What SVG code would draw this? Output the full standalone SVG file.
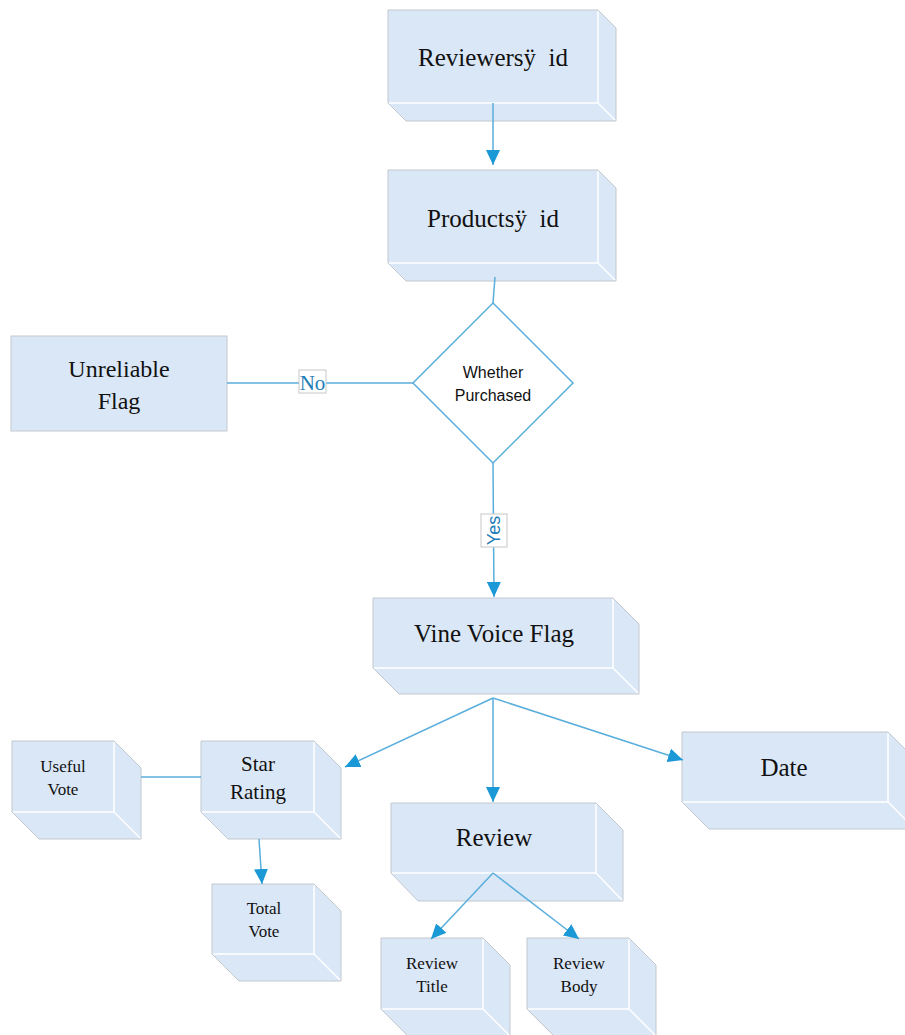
<svg xmlns="http://www.w3.org/2000/svg" width="905" height="1035" viewBox="0 0 905 1035">
<defs>
<style>
.box{fill:#dae7f6;stroke:#c3c8ce;stroke-width:1}
.inner{fill:none;stroke:#ffffff;stroke-width:1.5}
.flat{fill:#dae7f6;stroke:#c3c8ce;stroke-width:1}
.t{font-family:"Liberation Serif","Times New Roman",serif;fill:#111;text-anchor:middle}
.s{font-family:"Liberation Sans",Arial,sans-serif;fill:#111;text-anchor:middle;font-size:16px}
.c{fill:none;stroke:#5aaedc;stroke-width:1.5}
.lbl{fill:#ffffff;stroke:#c8c8c8;stroke-width:1}
.lt{fill:#1f7db8;text-anchor:middle}
</style>
<marker id="ah" viewBox="0 0 15 14" refX="15" refY="7" markerWidth="15" markerHeight="14" markerUnits="userSpaceOnUse" orient="auto">
<path d="M0,0 L15,7 L0,14 Z" fill="#1b98d6"/>
</marker>
</defs>
<rect width="905" height="1035" fill="#ffffff"/>

<g id="node-reviewers-id">
<path class="box" d="M388,10 H598 L616,28 V121 H406 L388,103 Z"/>
<path class="inner" d="M598,11 V103 H389 M598,103 L615,120"/>
<text class="t" x="493" y="66" font-size="25" xml:space="preserve" style="white-space:pre">Reviewersÿ  id</text>
</g>

<g id="node-products-id">
<path class="box" d="M388,170 H598 L616,188 V281 H406 L388,263 Z"/>
<path class="inner" d="M598,171 V263 H389 M598,263 L615,280"/>
<text class="t" x="493" y="227" font-size="25" xml:space="preserve" style="white-space:pre">Productsÿ  id</text>
</g>

<g id="node-unreliable-flag">
<rect class="flat" x="11" y="336" width="216" height="95"/>
<text class="t" x="119" y="377" font-size="24">Unreliable</text>
<text class="t" x="119" y="409" font-size="24">Flag</text>
</g>

<g id="node-whether-purchased">
<path d="M493,303 L573,383 L493,463 L413,383 Z" fill="#ffffff" stroke="#5aaedc" stroke-width="1.5"/>
<text class="s" x="493" y="378">Whether</text>
<text class="s" x="493" y="401">Purchased</text>
</g>

<g id="node-vine-voice-flag">
<path class="box" d="M373,598 H613 L639,624 V694 H399 L373,668 Z"/>
<path class="inner" d="M613,599 V668 H374 M613,668 L638,693"/>
<text class="t" x="494" y="642" font-size="25">Vine Voice Flag</text>
</g>

<g id="node-useful-vote">
<path class="box" d="M12,741 H114 L141,768 V839 H39 L12,812 Z"/>
<path class="inner" d="M114,742 V812 H13 M114,812 L140,838"/>
<text class="t" x="63" y="772" font-size="17">Useful</text>
<text class="t" x="63" y="795" font-size="17">Vote</text>
</g>

<g id="node-star-rating">
<path class="box" d="M201,741 H314 L341,768 V839 H228 L201,812 Z"/>
<path class="inner" d="M314,742 V812 H202 M314,812 L340,838"/>
<text class="t" x="258" y="771" font-size="21">Star</text>
<text class="t" x="258" y="799" font-size="21">Rating</text>
</g>

<g id="node-total-vote">
<path class="box" d="M212,884 H314 L341,911 V981 H239 L212,954 Z"/>
<path class="inner" d="M314,885 V954 H213 M314,954 L340,980"/>
<text class="t" x="264" y="914" font-size="17">Total</text>
<text class="t" x="264" y="937" font-size="17">Vote</text>
</g>

<g id="node-review">
<path class="box" d="M391,803 H596 L623,830 V901 H418 L391,873 Z"/>
<path class="inner" d="M596,804 V873 H392 M596,873 L622,900"/>
<text class="t" x="494" y="846" font-size="25">Review</text>
</g>

<g id="node-review-title">
<path class="box" d="M381,938 H483 L510,965 V1036 H408 L381,1009 Z"/>
<path class="inner" d="M483,939 V1009 H382 M483,1009 L509,1035"/>
<text class="t" x="432" y="969" font-size="17">Review</text>
<text class="t" x="432" y="992" font-size="17">Title</text>
</g>

<g id="node-review-body">
<path class="box" d="M527,938 H629 L656,965 V1036 H554 L527,1009 Z"/>
<path class="inner" d="M629,939 V1009 H528 M629,1009 L655,1035"/>
<text class="t" x="579" y="969" font-size="17">Review</text>
<text class="t" x="579" y="992" font-size="17">Body</text>
</g>

<g id="node-date">
<path class="box" d="M682,732 H888 L915,759 V829 H709 L682,802 Z"/>
<path class="inner" d="M888,733 V802 H683 M888,802 L914,828"/>
<text class="t" x="784" y="776" font-size="25">Date</text>
</g>

<g id="connectors">
<line class="c" x1="493" y1="103" x2="493" y2="165" marker-end="url(#ah)"/>
<line class="c" x1="495" y1="277" x2="493" y2="303"/>
<line class="c" x1="227" y1="383" x2="413" y2="383"/>
<line class="c" x1="493" y1="463" x2="494" y2="597" marker-end="url(#ah)"/>
<line class="c" x1="493" y1="698" x2="345" y2="767" marker-end="url(#ah)"/>
<line class="c" x1="493" y1="698" x2="493" y2="802" marker-end="url(#ah)"/>
<line class="c" x1="493" y1="698" x2="683" y2="760" marker-end="url(#ah)"/>
<line class="c" x1="141" y1="777" x2="201" y2="777"/>
<line class="c" x1="259" y1="839" x2="262" y2="884" marker-end="url(#ah)"/>
<line class="c" x1="493" y1="873" x2="431" y2="939" marker-end="url(#ah)"/>
<line class="c" x1="493" y1="873" x2="579" y2="939" marker-end="url(#ah)"/>
<g id="label-no">
<rect class="lbl" x="299" y="370" width="27" height="23"/>
<text class="lt" x="312.5" y="390" font-family="Liberation Serif, Times New Roman, serif" font-size="21">No</text>
</g>
<g id="label-yes">
<rect class="lbl" x="481" y="514" width="26" height="33"/>
<text class="lt" transform="translate(500,530.5) rotate(-90)" x="0" y="0" font-family="Liberation Sans, Arial, sans-serif" font-size="18">Yes</text>
</g>
</g>
</svg>
